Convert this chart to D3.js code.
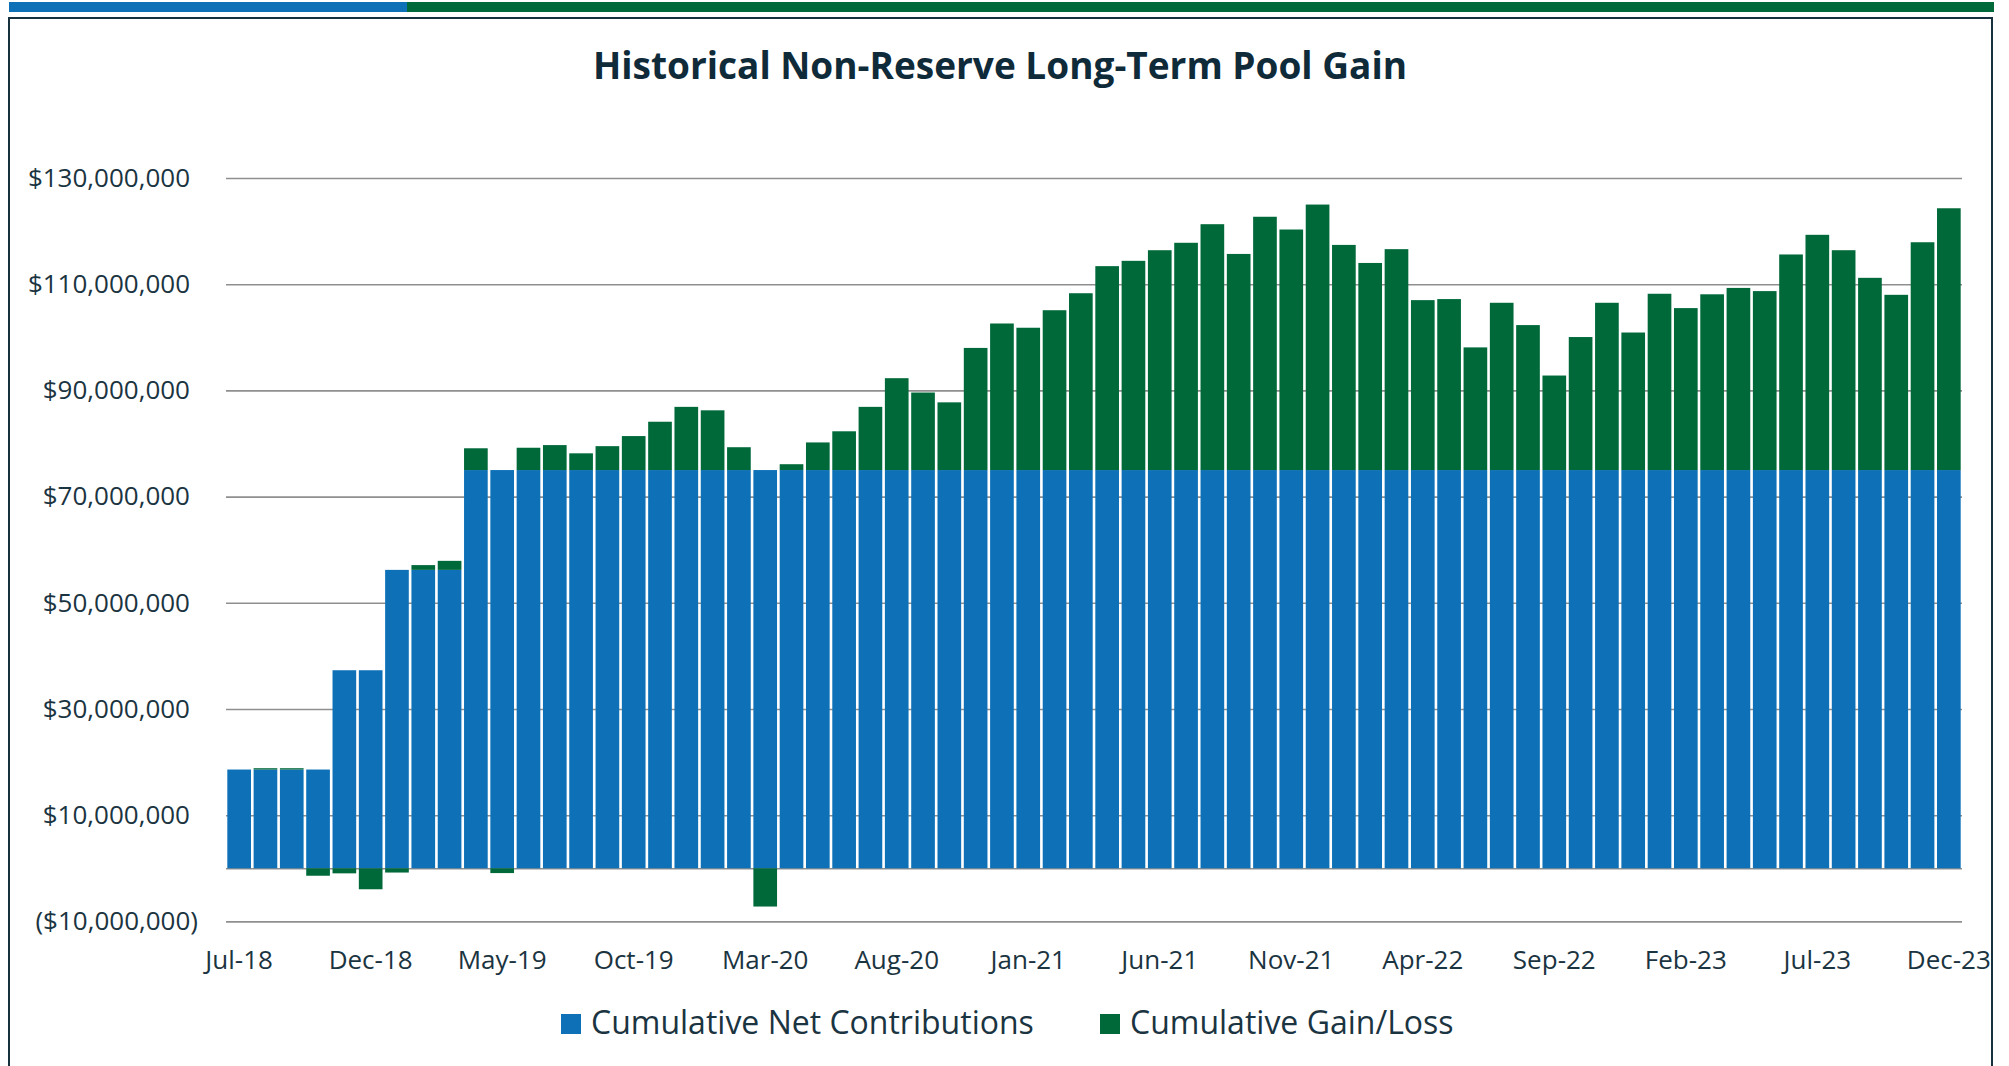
<!DOCTYPE html>
<html>
<head>
<meta charset="utf-8">
<script src="https://cdn.jsdelivr.net/npm/d3@7"></script>
<style>
  body { margin: 0; background: #ffffff; }
  svg { display: block; }
  svg text { font-family: "Open Sans", "Noto Sans", sans-serif; }
</style>
</head>
<body>
<svg id="chart"></svg>
<script>
// ----------------------------------------- Data (millions of dollars) -----------------------------------------

var months = ["Jul-18","Aug-18","Sep-18","Oct-18","Nov-18","Dec-18",
              "Jan-19","Feb-19","Mar-19","Apr-19","May-19","Jun-19","Jul-19","Aug-19","Sep-19","Oct-19","Nov-19","Dec-19",
              "Jan-20","Feb-20","Mar-20","Apr-20","May-20","Jun-20","Jul-20","Aug-20","Sep-20","Oct-20","Nov-20","Dec-20",
              "Jan-21","Feb-21","Mar-21","Apr-21","May-21","Jun-21","Jul-21","Aug-21","Sep-21","Oct-21","Nov-21","Dec-21",
              "Jan-22","Feb-22","Mar-22","Apr-22","May-22","Jun-22","Jul-22","Aug-22","Sep-22","Oct-22","Nov-22","Dec-22",
              "Jan-23","Feb-23","Mar-23","Apr-23","May-23","Jun-23","Jul-23","Aug-23","Sep-23","Oct-23","Nov-23","Dec-23"];

var netContributions = [18.6, 18.6, 18.6, 18.6, 37.3, 37.3,
                        56.2, 56.2, 56.2, 75, 75, 75, 75, 75, 75, 75, 75, 75,
                        75, 75, 75, 75, 75, 75, 75, 75, 75, 75, 75, 75,
                        75, 75, 75, 75, 75, 75, 75, 75, 75, 75, 75, 75,
                        75, 75, 75, 75, 75, 75, 75, 75, 75, 75, 75, 75,
                        75, 75, 75, 75, 75, 75, 75, 75, 75, 75, 75, 75];

var gainLoss = [0, 0.25, 0.25, -1.4, -0.95, -3.95,
                -0.8, 0.9, 1.7, 4.1, -0.9, 4.2, 4.7, 3.15, 4.5, 6.4, 9.1, 11.9,
                11.25, 4.3, -7.2, 1.1, 5.2, 7.3, 11.9, 17.3, 14.6, 12.75, 23.0, 27.6,
                26.8, 30.1, 33.3, 38.4, 39.4, 41.4, 42.8, 46.3, 40.7, 47.7, 45.3, 50.0,
                42.4, 39.0, 41.6, 32.0, 32.2, 23.1, 31.5, 27.3, 17.8, 25.05, 31.5, 25.9,
                33.2, 30.5, 33.1, 34.3, 33.7, 40.6, 44.3, 41.4, 36.2, 33.0, 42.9, 49.3];

var xTickLabels = ["Jul-18","Dec-18","May-19","Oct-19","Mar-20","Aug-20","Jan-21",
                   "Jun-21","Nov-21","Apr-22","Sep-22","Feb-23","Jul-23","Dec-23"];

var yTickValues = [-10, 10, 30, 50, 70, 90, 110, 130];

var seriesNames = ["Cumulative Net Contributions", "Cumulative Gain/Loss"];

// ----------------------------------------- Setup -----------------------------------------

var width = 2009;
var height = 1066;
var blue = "#0e71b8";
var green = "#00693a";
var textColor = "#1b3441";
var fontStack = '"Open Sans", "Noto Sans", sans-serif';

var svg = d3.select("#chart")
            .attr("width", width)
            .attr("height", height);

svg.append("rect")
    .attr("width", width)
    .attr("height", height)
    .attr("fill", "#ffffff");

// top colour strip
svg.append("rect").attr("x", 9).attr("y", 2).attr("width", 398).attr("height", 10).attr("fill", blue);
svg.append("rect").attr("x", 407).attr("y", 2).attr("width", 1587).attr("height", 10).attr("fill", green);

// frame
svg.append("rect")
    .attr("x", 9).attr("y", 18)
    .attr("width", 1983).attr("height", 1100)
    .attr("fill", "none")
    .attr("stroke", "#17313e")
    .attr("stroke-width", 2);

// title
svg.append("text")
    .attr("x", 1000)
    .attr("y", 79)
    .attr("text-anchor", "middle")
    .style("font-family", fontStack)
    .style("font-size", "37px")
    .style("font-weight", "700")
    .style("fill", "#0f2a38")
    .text("Historical Non-Reserve Long-Term Pool Gain");

// ----------------------------------------- Scales -----------------------------------------

var plot = { left: 226, right: 1962, top: 178, bottom: 921.4 };

var x = d3.scaleBand()
          .domain(months)
          .range([plot.left, plot.right])
          .paddingInner(0.1)
          .paddingOuter(0.05);

var y = d3.scaleLinear()
          .domain([-10, 130])
          .range([plot.bottom, plot.top]);

// ----------------------------------------- Grid + axes -----------------------------------------

var grid = svg.append("g")
              .attr("transform", `translate(${plot.left},0)`)
              .call(d3.axisLeft(y).tickValues(yTickValues.concat([0])).tickSize(-(plot.right - plot.left)).tickFormat(""));

grid.select(".domain").remove();
grid.selectAll("line")
    .attr("stroke", "#8f8f8f")
    .attr("stroke-width", 1.6);

var fmt = d3.format(",");

var yAxis = svg.append("g")
               .attr("transform", "translate(198,0)")
               .call(d3.axisLeft(y)
                       .tickValues(yTickValues)
                       .tickSize(0)
                       .tickPadding(0)
                       .tickFormat(function(d){
                           var s = "$" + fmt(Math.abs(d) * 1000000);
                           return d < 0 ? "(" + s + ")" : s;
                       }));

yAxis.attr("font-family", null).attr("font-size", null);
yAxis.select(".domain").remove();
yAxis.selectAll("text")
     .attr("dx", d => d < 0 ? 0 : -8)
     .style("font-family", fontStack)
     .style("font-size", "26px")
     .style("fill", textColor);

// ----------------------------------------- Bars -----------------------------------------

var rows = months.map(function(m, i){
    return { month: m, contrib: netContributions[i], gain: gainLoss[i] };
});

var stack = d3.stack()
              .keys(["contrib", "gain"])
              .offset(d3.stackOffsetDiverging)(rows);

var colors = [blue, green];

svg.append("g")
    .selectAll("g")
    .data(stack)
    .enter()
    .append("g")
        .attr("fill", (d, i) => colors[i])
    .selectAll("rect")
    .data(d => d)
    .enter()
    .append("rect")
        .attr("x", d => x(d.data.month))
        .attr("width", x.bandwidth())
        .attr("y", d => y(Math.max(d[0], d[1])))
        .attr("height", d => Math.abs(y(d[0]) - y(d[1])));

// x axis labels
var xAxis = svg.append("g")
               .attr("transform", `translate(0,${plot.bottom})`)
               .call(d3.axisBottom(x).tickValues(xTickLabels).tickSize(0));

xAxis.attr("font-family", null).attr("font-size", null);
xAxis.select(".domain").remove();
xAxis.selectAll("text")
     .attr("y", 969 - plot.bottom)
     .attr("dy", 0)
     .style("font-family", fontStack)
     .style("font-size", "26px")
     .style("fill", textColor);

// ----------------------------------------- Legend -----------------------------------------

var legendX = [561, 1100];

var legend = svg.append("g")
                .selectAll("g")
                .data(seriesNames)
                .enter()
                .append("g")
                    .attr("transform", (d, i) => `translate(${legendX[i]},1014)`);

legend.append("rect")
    .attr("width", 20)
    .attr("height", 20)
    .attr("fill", (d, i) => colors[i]);

legend.append("text")
    .attr("x", 30)
    .attr("y", 20)
    .style("font-family", fontStack)
    .style("font-size", "32px")
    .style("fill", textColor)
    .text(d => d);
</script>
</body>
</html>
